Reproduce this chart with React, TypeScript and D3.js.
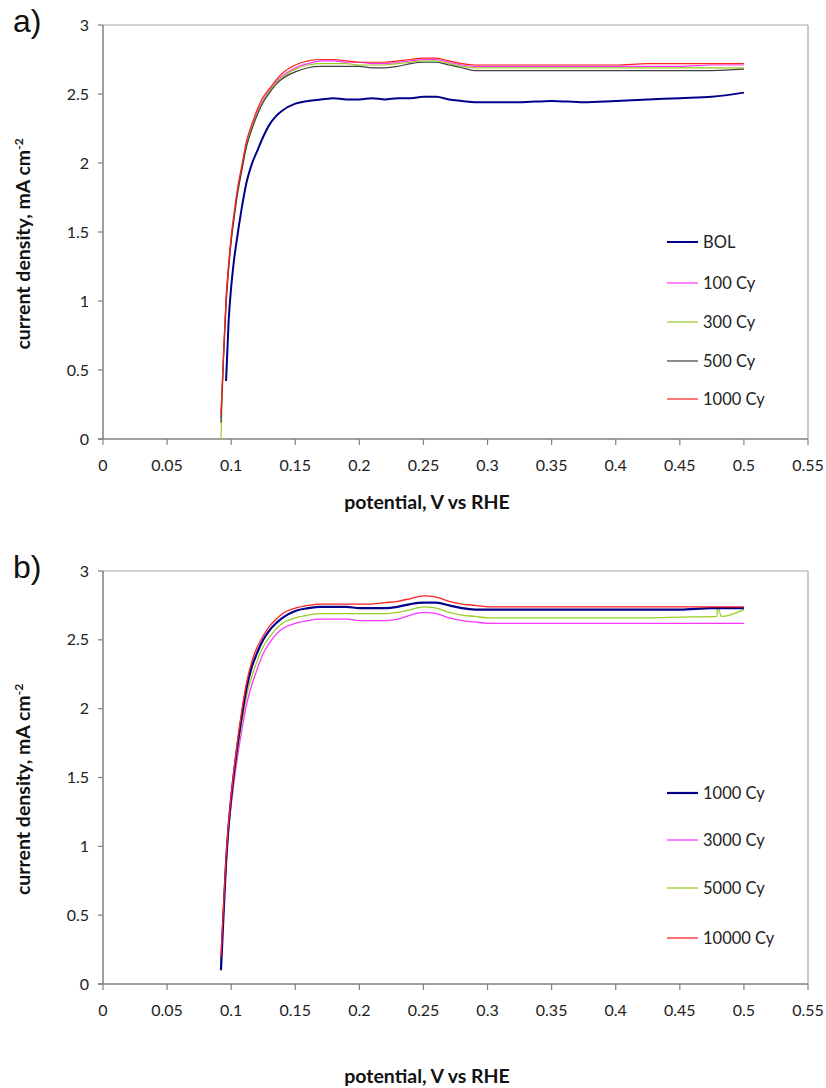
import React from "react";
import * as d3 from "d3";

// ---------- data ----------
const xTicks = [0, 0.05, 0.1, 0.15, 0.2, 0.25, 0.3, 0.35, 0.4, 0.45, 0.5, 0.55];
const yTicks = [0, 0.5, 1, 1.5, 2, 2.5, 3];

// shared potential grid (V vs RHE)
const potential = [0.092, 0.094, 0.096, 0.098, 0.1, 0.102, 0.105, 0.108, 0.112, 0.116, 0.12, 0.125, 0.13, 0.135, 0.14, 0.15, 0.16, 0.17, 0.18, 0.19, 0.2, 0.21, 0.22, 0.23, 0.24, 0.25, 0.26, 0.27, 0.28, 0.29, 0.3, 0.325, 0.35, 0.375, 0.4, 0.425, 0.45, 0.475, 0.5];

// panel a
const aBOL = [null, null, 0.42, 0.85, 1.1, 1.28, 1.48, 1.66, 1.86, 1.99, 2.08, 2.19, 2.28, 2.34, 2.38, 2.43, 2.45, 2.46, 2.47, 2.46, 2.46, 2.47, 2.46, 2.47, 2.47, 2.48, 2.48, 2.46, 2.45, 2.44, 2.44, 2.44, 2.45, 2.44, 2.45, 2.46, 2.47, 2.48, 2.51];
const a100 = [0.15, 0.6, 1.0, 1.25, 1.45, 1.6, 1.8, 1.95, 2.14, 2.26, 2.36, 2.46, 2.53, 2.59, 2.63, 2.69, 2.72, 2.74, 2.74, 2.73, 2.73, 2.72, 2.72, 2.73, 2.74, 2.75, 2.75, 2.73, 2.71, 2.70, 2.70, 2.70, 2.70, 2.70, 2.70, 2.70, 2.70, 2.71, 2.71];
const a300 = [0.0, 0.58, 0.98, 1.24, 1.44, 1.59, 1.79, 1.94, 2.13, 2.25, 2.35, 2.45, 2.52, 2.58, 2.62, 2.68, 2.71, 2.72, 2.72, 2.72, 2.71, 2.71, 2.71, 2.72, 2.73, 2.74, 2.74, 2.72, 2.70, 2.69, 2.69, 2.69, 2.69, 2.69, 2.69, 2.69, 2.69, 2.69, 2.69];
const a500 = [0.12, 0.58, 0.97, 1.23, 1.43, 1.58, 1.78, 1.93, 2.12, 2.24, 2.34, 2.44, 2.51, 2.57, 2.61, 2.66, 2.69, 2.70, 2.70, 2.70, 2.70, 2.69, 2.69, 2.70, 2.72, 2.73, 2.73, 2.71, 2.69, 2.67, 2.67, 2.67, 2.67, 2.67, 2.67, 2.67, 2.67, 2.67, 2.68];
const a1000 = [0.18, 0.62, 1.02, 1.27, 1.47, 1.62, 1.82, 1.97, 2.16, 2.28, 2.38, 2.48, 2.54, 2.6, 2.65, 2.71, 2.74, 2.75, 2.75, 2.74, 2.73, 2.73, 2.73, 2.74, 2.75, 2.76, 2.76, 2.74, 2.72, 2.71, 2.71, 2.71, 2.71, 2.71, 2.71, 2.72, 2.72, 2.72, 2.72];

// panel b
const b1000 = [0.1, 0.5, 0.88, 1.15, 1.35, 1.52, 1.74, 1.93, 2.15, 2.3, 2.4, 2.5, 2.57, 2.62, 2.66, 2.71, 2.73, 2.74, 2.74, 2.74, 2.73, 2.73, 2.73, 2.74, 2.76, 2.77, 2.77, 2.75, 2.73, 2.72, 2.72, 2.72, 2.72, 2.72, 2.72, 2.72, 2.72, 2.73, 2.73];
const b3000 = [0.15, 0.52, 0.88, 1.12, 1.3, 1.45, 1.65, 1.83, 2.03, 2.17, 2.28, 2.4, 2.48, 2.54, 2.58, 2.62, 2.64, 2.65, 2.65, 2.65, 2.64, 2.64, 2.64, 2.65, 2.68, 2.70, 2.69, 2.66, 2.64, 2.63, 2.62, 2.62, 2.62, 2.62, 2.62, 2.62, 2.62, 2.62, 2.62];
const b10000 = [0.2, 0.56, 0.92, 1.17, 1.37, 1.54, 1.77, 1.97, 2.19, 2.34, 2.44, 2.53, 2.6, 2.65, 2.69, 2.73, 2.75, 2.76, 2.76, 2.76, 2.76, 2.76, 2.77, 2.78, 2.80, 2.82, 2.81, 2.78, 2.76, 2.75, 2.74, 2.74, 2.74, 2.74, 2.74, 2.74, 2.74, 2.74, 2.74];
// 5000 Cy has its own grid (contains the glitch near 0.48 V)
const potential5000 = [0.092, 0.094, 0.096, 0.098, 0.1, 0.102, 0.105, 0.108, 0.112, 0.116, 0.12, 0.125, 0.13, 0.135, 0.14, 0.15, 0.16, 0.17, 0.18, 0.19, 0.2, 0.21, 0.22, 0.23, 0.24, 0.25, 0.26, 0.27, 0.28, 0.29, 0.3, 0.325, 0.35, 0.375, 0.4, 0.425, 0.45, 0.479, 0.4795, 0.4825, 0.5];
const b5000 = [0.15, 0.53, 0.9, 1.14, 1.33, 1.49, 1.7, 1.88, 2.09, 2.23, 2.34, 2.45, 2.52, 2.58, 2.62, 2.66, 2.68, 2.69, 2.69, 2.69, 2.69, 2.69, 2.69, 2.70, 2.72, 2.74, 2.73, 2.70, 2.68, 2.67, 2.66, 2.66, 2.66, 2.66, 2.66, 2.66, 2.665, 2.67, 2.74, 2.67, 2.72];

type Series = { label: string; xs: number[]; ys: (number | null)[]; color: string; width: number; legendY: number };

const seriesA: Series[] = [
  { label: "BOL", xs: potential, ys: aBOL, color: "#00008b", width: 2, legendY: 242 },
  { label: "100 Cy", xs: potential, ys: a100, color: "#ff33ff", width: 1.2, legendY: 283 },
  { label: "300 Cy", xs: potential, ys: a300, color: "#99cc22", width: 1.2, legendY: 322 },
  { label: "500 Cy", xs: potential, ys: a500, color: "#404040", width: 1.2, legendY: 361 },
  { label: "1000 Cy", xs: potential, ys: a1000, color: "#ff2020", width: 1.2, legendY: 399 },
];
const seriesB: Series[] = [
  { label: "1000 Cy", xs: potential, ys: b1000, color: "#00008b", width: 2.2, legendY: 793 },
  { label: "3000 Cy", xs: potential, ys: b3000, color: "#ff33ff", width: 1.3, legendY: 840 },
  { label: "5000 Cy", xs: potential5000, ys: b5000, color: "#99cc22", width: 1.3, legendY: 888 },
  { label: "10000 Cy", xs: potential, ys: b10000, color: "#ff2020", width: 1.3, legendY: 938 },
];
const drawOrderB = [1, 2, 0, 3];

const FONT = "Lato, 'Open Sans', 'Liberation Sans', sans-serif";

function Panel({ label, series, top, bottom, order, titleGap }: { label: string; series: Series[]; top: number; bottom: number; order?: number[]; titleGap: number }) {
  const left = 103, right = 808;
  const x = d3.scaleLinear().domain([0, 0.55]).range([left, right]);
  const y = d3.scaleLinear().domain([0, 3]).range([bottom, top]);
  const line = (s: Series) =>
    d3
      .line<number>()
      .defined((_, i) => s.ys[i] !== null)
      .x((_, i) => x(s.xs[i]))
      .y((_, i) => y(s.ys[i] as number))
      .curve(d3.curveMonotoneX)(s.xs as any) || "";
  const idx = order || series.map((_, i) => i);
  const midY = (top + bottom) / 2 + 12;
  return (
    <g>
      <text x={13} y={top + 7} fontFamily="'Liberation Sans', Arial, sans-serif" fontSize={32} fill="#111">{label}</text>
      {/* frame */}
      <line x1={left} x2={right} y1={top} y2={top} stroke="#a8a8a8" strokeWidth={1.2} />
      <line x1={right} x2={right} y1={top} y2={bottom} stroke="#a8a8a8" strokeWidth={1.2} />
      {/* y axis */}
      <line x1={left} x2={left} y1={top} y2={bottom} stroke="#808080" strokeWidth={1.5} />
      {yTicks.map((t) => (
        <g key={"y" + t}>
          <line x1={left - 5} x2={left} y1={y(t)} y2={y(t)} stroke="#808080" strokeWidth={1.2} />
          <text x={left - 14} y={y(t) + 5.5} textAnchor="end" fontFamily={FONT} fontSize={16} fill="#222">{String(t)}</text>
        </g>
      ))}
      {/* x axis */}
      <line x1={left - 5} x2={right} y1={bottom} y2={bottom} stroke="#808080" strokeWidth={1.5} />
      {xTicks.map((t) => (
        <g key={"x" + t}>
          <line x1={x(t)} x2={x(t)} y1={bottom} y2={bottom + 6} stroke="#808080" strokeWidth={1.2} />
          <text x={x(t)} y={bottom + 32} textAnchor="middle" fontFamily={FONT} fontSize={16} fill="#222">{String(+t.toFixed(2))}</text>
        </g>
      ))}
      {/* titles */}
      <text x={427} y={bottom + titleGap} textAnchor="middle" fontFamily={FONT} fontWeight="bold" fontSize={19.5} fill="#111">potential, V vs RHE</text>
      <text transform={`translate(30,${midY}) rotate(-90)`} textAnchor="middle" fontFamily={FONT} fontWeight="bold" fontSize={19.5} fill="#111">
        current density, mA cm<tspan dy={-7} fontSize={12}>-2</tspan>
      </text>
      {/* series */}
      {idx.map((i) => {
        const s = series[i];
        return <path key={s.label} d={line(s)} fill="none" stroke={s.color} strokeWidth={s.width} strokeLinejoin="round" />;
      })}
      {/* legend */}
      {series.map((s) => (
        <g key={"lg" + s.label}>
          <line x1={667} x2={698} y1={s.legendY} y2={s.legendY} stroke={s.color} strokeWidth={s.width} />
          <text x={703} y={s.legendY + 6} fontFamily={FONT} fontSize={16.5} fill="#222">{s.label}</text>
        </g>
      ))}
    </g>
  );
}

export default function App() {
  return (
    <svg width={826} height={1088} style={{ position: "absolute", left: 0, top: 0, background: "#fff" }}>
      <rect x={0} y={0} width={826} height={1088} fill="#fff" />
      <Panel label="a)" series={seriesA} top={25} bottom={439} titleGap={70} />
      <Panel label="b)" series={seriesB} top={571} bottom={984} order={drawOrderB} titleGap={99} />
    </svg>
  );
}
